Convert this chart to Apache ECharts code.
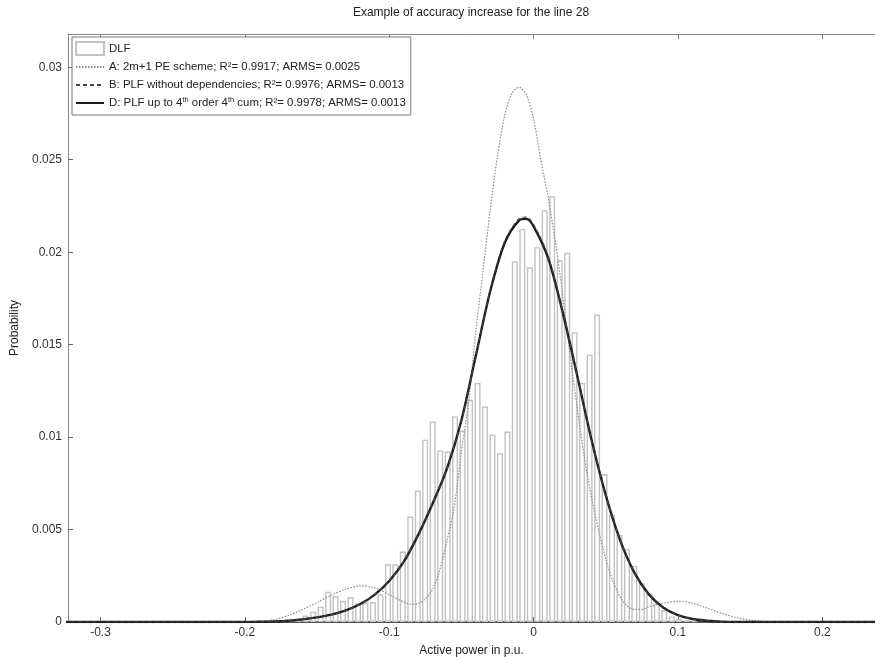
<!DOCTYPE html>
<html><head><meta charset="utf-8">
<script src="https://cdn.jsdelivr.net/npm/echarts@6/dist/echarts.min.js"></script>
<style>html,body{margin:0;padding:0;background:#fff}#c{width:875px;height:657px}</style>
</head><body><div id="c"></div><script>
const titleText = 'Example of accuracy increase for the line 28';
const xAxisName = 'Active power in p.u.';
const yAxisName = 'Probability';
const xTicks = [-0.3, -0.2, -0.1, 0, 0.1, 0.2];
const yTicks = [0, 0.005, 0.01, 0.015, 0.02, 0.025, 0.03];

const seriesNames = [
  'DLF',
  'A: 2m+1 PE scheme; R\u00b2= 0.9917; ARMS= 0.0025',
  'B: PLF without dependencies; R\u00b2= 0.9976; ARMS= 0.0013',
  'D: PLF up to 4th order 4th cum; R\u00b2= 0.9978; ARMS= 0.0013'
];

// histogram (DLF) bin centres and probabilities
const binCenters = [-0.1682,-0.1630,-0.1579,-0.1527,-0.1475,-0.1423,-0.1372,-0.1320,-0.1268,-0.1216,
  -0.1165,-0.1113,-0.1061,-0.1009,-0.0958,-0.0906,-0.0854,-0.0802,-0.0751,-0.0699,
  -0.0647,-0.0595,-0.0544,-0.0492,-0.0440,-0.0388,-0.0337,-0.0285,-0.0233,-0.0181,
  -0.0130,-0.0078,-0.0026,0.0026,0.0077,0.0129,0.0181,0.0233,0.0284,0.0336,
  0.0388,0.0440,0.0491,0.0543,0.0595,0.0647,0.0698,0.0750,0.0802,0.0854,
  0.0905,0.0957,0.1009,0.1061,0.1112];
const dlfValues = [0.00010,0.00020,0.00035,0.00056,0.00083,0.00164,0.00140,0.00115,0.00135,0.00100,
  0.00105,0.00108,0.00150,0.00312,0.00312,0.00381,0.00570,0.00711,0.00986,0.01085,
  0.00928,0.00922,0.01112,0.01035,0.01202,0.01293,0.01166,0.01013,0.00913,0.01030,
  0.01951,0.02126,0.01918,0.02027,0.02226,0.02303,0.01956,0.01997,0.01567,0.01293,
  0.01446,0.01662,0.00800,0.00580,0.00470,0.00394,0.00303,0.00210,0.00155,0.00100,
  0.00065,0.00030,0.00018,0.00010,0.00005];

// curve A (2m+1 PE scheme)
const aX = [-0.33,-0.20,-0.19,-0.18,-0.17,-0.16,-0.15,-0.14,-0.13,-0.12,-0.11,-0.10,-0.09,-0.085,-0.08,-0.075,-0.07,-0.065,-0.06,-0.055,
  -0.05,-0.045,-0.04,-0.035,-0.03,-0.025,-0.02,-0.015,-0.01,-0.005,0.0,0.005,0.01,0.015,0.02,0.025,0.03,0.035,0.04,0.045,
  0.05,0.055,0.06,0.065,0.07,0.075,0.08,0.09,0.10,0.11,0.12,0.13,0.14,0.15,0.16,0.17,0.18,0.24];
const aY = [0,0,0.00002,0.00012,0.00035,0.00068,0.00105,0.00145,0.00178,0.00195,0.00185,0.00148,0.00108,0.00096,0.00100,0.00125,0.00175,0.00280,0.00440,0.00620,
  0.00920,0.01190,0.01570,0.01900,0.02230,0.02520,0.02740,0.02860,0.02892,0.02850,0.02720,0.02500,0.02300,0.02060,0.01780,0.01460,0.01170,0.00900,0.00680,0.00500,
  0.00340,0.00220,0.00135,0.00085,0.00068,0.00068,0.00082,0.00102,0.00112,0.00102,0.00076,0.00048,0.00025,0.00010,0.00003,0,0,0];

// curves B and D share abscissae
const bdX = [-0.33,-0.20,-0.19,-0.18,-0.17,-0.16,-0.15,-0.14,-0.13,-0.12,-0.11,-0.10,-0.09,-0.08,-0.07,-0.06,-0.05,-0.04,-0.03,-0.02,
  -0.01,-0.005,0.0,0.01,0.02,0.03,0.04,0.05,0.06,0.07,0.08,0.09,0.10,0.11,0.12,0.13,0.14,0.24];
const bY = [0,0,0.00001,0.00003,0.00007,0.00014,0.00025,0.00040,0.00063,0.00097,0.00148,0.00222,0.00325,0.00470,0.00640,0.00830,0.01090,0.01440,0.01795,0.02060,
  0.02182,0.02190,0.02150,0.01980,0.01685,0.01342,0.00990,0.00686,0.00441,0.00264,0.00148,0.00077,0.00037,0.00016,0.00007,0.00002,0,0];
const dY = [0,0,0.00001,0.00003,0.00007,0.00014,0.00025,0.00040,0.00063,0.00097,0.00148,0.00222,0.00325,0.00470,0.00640,0.00830,0.01090,0.01440,0.01790,0.02050,
  0.02172,0.02180,0.02140,0.01970,0.01680,0.01340,0.00990,0.00686,0.00441,0.00264,0.00148,0.00077,0.00037,0.00016,0.00007,0.00002,0,0];

const pairs = (xs, ys) => xs.map((x, i) => [x, ys[i]]);
const FONT = 'Liberation Sans, Arial, sans-serif';

const chart = echarts.init(document.getElementById('c'), null, {renderer: 'canvas'});
chart.setOption({
  animation: false,
  backgroundColor: '#fff',
  textStyle: {fontFamily: FONT},
  graphic: [{
    type: 'text', x: 471, y: 7,
    style: {text: titleText, font: '12px ' + FONT, fill: '#222', align: 'center', textAlign: 'center'}
  }],
  grid: {left: 68, right: 0, top: 34, bottom: 35, containLabel: false, outerBoundsMode: 'none'},
  legend: {
    orient: 'vertical', left: 72, top: 37,
    backgroundColor: '#fff', borderColor: '#777', borderWidth: 1,
    padding: [4, 5, 5, 3], itemGap: 4, itemWidth: 28, itemHeight: 13,
    data: [
      {name: seriesNames[0], icon: 'rect'},
      {name: seriesNames[1], itemStyle: {opacity: 0}},
      {name: seriesNames[2], itemStyle: {opacity: 0}},
      {name: seriesNames[3], itemStyle: {opacity: 0}}
    ],
    formatter: n => n.replace(/4th/g, '4{sup|th}'),
    textStyle: {fontFamily: FONT, fontSize: 11.4, color: '#222', lineHeight: 14,
      rich: {sup: {fontSize: 7.5, verticalAlign: 'top', lineHeight: 14, fontFamily: FONT, color: '#222'}}}
  },
  xAxis: [{
    type: 'value', min: -0.3225, max: 0.2365, position: 'bottom',
    name: xAxisName, nameLocation: 'middle', nameGap: 23,
    nameTextStyle: {fontFamily: FONT, fontSize: 12, color: '#222'},
    axisLine: {show: true, onZero: false, lineStyle: {color: '#555', width: 2}},
    axisTick: {show: true, inside: true, length: 5, customValues: xTicks, lineStyle: {color: '#666'}},
    axisLabel: {show: true, customValues: xTicks, margin: 5, fontSize: 12, color: '#333', fontFamily: FONT,
      formatter: v => String(v)},
    splitLine: {show: false}
  }, {
    type: 'value', min: -0.3225, max: 0.2365, position: 'top',
    axisLine: {show: true, onZero: false, lineStyle: {color: '#888', width: 1}},
    axisTick: {show: true, inside: true, length: 5, customValues: xTicks, lineStyle: {color: '#888'}},
    axisLabel: {show: false}, splitLine: {show: false}
  }],
  yAxis: {
    type: 'value', min: 0, max: 0.0318, position: 'left',
    name: yAxisName, nameLocation: 'middle', nameGap: 47, nameRotate: 90,
    nameTextStyle: {fontFamily: FONT, fontSize: 12, color: '#222'},
    axisLine: {show: true, onZero: false, lineStyle: {color: '#888', width: 1}},
    axisTick: {show: true, inside: true, length: 5, customValues: yTicks, lineStyle: {color: '#666'}},
    axisLabel: {show: true, customValues: yTicks, margin: 6, fontSize: 12, color: '#333', fontFamily: FONT,
      formatter: v => String(v)},
    splitLine: {show: false}
  },
  series: [{
    name: seriesNames[0], type: 'bar', data: pairs(binCenters, dlfValues),
    barWidth: 6, z: 1,
    itemStyle: {color: '#fff', borderColor: '#c2c2c2', borderWidth: 1.4}
  }, {
    name: seriesNames[1], type: 'line', data: pairs(aX, aY), smooth: 0.3,
    symbol: 'none', showSymbol: false, z: 3,
    lineStyle: {color: '#8c8c8c', width: 1.2, type: [1.5, 1.5]},
    itemStyle: {color: '#8c8c8c'}
  }, {
    name: seriesNames[3], type: 'line', data: pairs(bdX, dY), smooth: 0.3,
    symbol: 'none', showSymbol: false, z: 4,
    lineStyle: {color: '#1e1e1e', width: 2.4},
    itemStyle: {color: '#1e1e1e'}
  }, {
    name: seriesNames[2], type: 'line', data: pairs(bdX, bY), smooth: 0.3,
    symbol: 'none', showSymbol: false, z: 5,
    lineStyle: {color: '#444', width: 1.2, type: [4, 3]},
    itemStyle: {color: '#444'}
  }]
});
</script></body></html>
